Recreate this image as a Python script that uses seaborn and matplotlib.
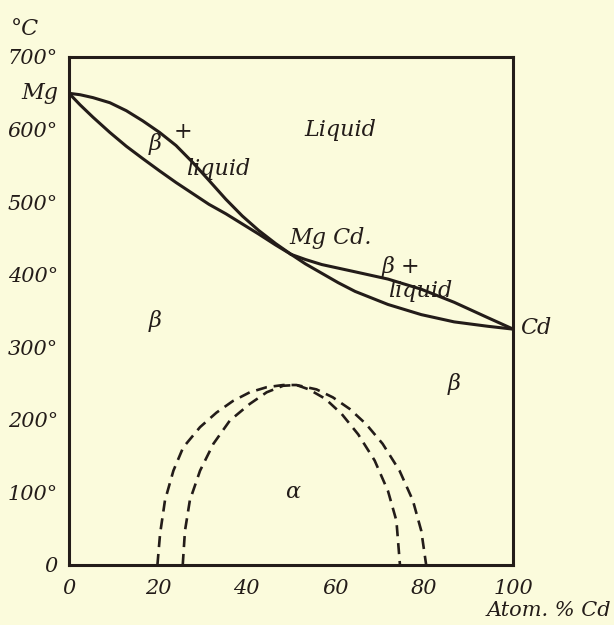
import numpy as np
import pandas as pd
import seaborn as sns
import matplotlib.pyplot as plt

# liquidus / solidus, Mg side of MgCd
liq_left_x = [0, 2.5, 5.4, 9.2, 12.9, 16.6, 20.4, 24.1, 27.8, 31.5, 35.3, 39, 42.7, 46.5, 50]
liq_left_t = [650, 648, 644, 637, 626, 612, 596, 578, 555, 530, 504, 481, 461, 443, 428]
sol_left_x = [0, 2.5, 5.4, 9.2, 12.9, 16.6, 20.4, 24.1, 27.8, 31.5, 35.3, 39, 42.7, 46.5, 50]
sol_left_t = [650, 634, 617, 596, 577, 560, 543, 527, 512, 497, 484, 470, 456, 441, 428]

# Cd side of MgCd
liq_right_x = [50, 53.2, 56.9, 64.4, 71.8, 79.3, 86.7, 94.2, 100]
liq_right_t = [428, 421, 414, 404, 394, 380, 362, 341, 325]
sol_right_x = [50, 53.2, 56.9, 60.6, 64.4, 71.8, 79.3, 86.7, 94.2, 100]
sol_right_t = [428, 415, 402, 389, 377, 359, 345, 335, 329, 325]

# transformation curves (dashed)
outer_x = [19.9, 20.5, 21.6, 23.5, 25.7, 29.5, 33.2, 36.9, 40.7, 44.5, 48.2, 51.2,
           55.7, 59.4, 63.2, 66.9, 70.6, 74.4, 77.4, 79.3, 80.4]
outer_t = [0, 43, 89, 130, 162, 190, 210, 226, 238, 245, 248, 248,
           242, 231, 215, 194, 167, 130, 89, 47, 0]
inner_x = [25.6, 26.1, 27.2, 29.5, 32.5, 36.2, 40.7, 44.5, 48.2, 51.2,
           54, 57.7, 61.4, 65.1, 68.8, 71.8, 73.7, 74.5]
inner_t = [0, 47, 89, 130, 167, 199, 222, 238, 247, 248,
           242, 229, 208, 180, 144, 102, 61, 0]

x_ticks = [0, 20, 40, 60, 80, 100]
y_ticks = [0, 100, 200, 300, 400, 500, 600, 700]
y_labels = ["0", "100°", "200°", "300°", "400°", "500°", "600°", "700°"]

bg = "#fbfbdc"
ink = "#231c19"

sns.set_style("white")
plt.rcParams["font.family"] = ["DejaVu Serif"]
plt.rcParams["font.style"] = "italic"

fig = plt.figure(figsize=(6.14, 6.25), dpi=100, facecolor=bg)
ax = fig.add_axes([0.1124, 0.0960, 0.7235, 0.8128])
ax.set_facecolor(bg)

for xs, ts in [(liq_left_x, liq_left_t), (sol_left_x, sol_left_t),
               (liq_right_x, liq_right_t), (sol_right_x, sol_right_t)]:
    sns.lineplot(x=xs, y=ts, sort=False, estimator=None, color=ink, lw=2.2, ax=ax)

for xs, ts in [(outer_x, outer_t), (inner_x, inner_t)]:
    sns.lineplot(x=xs, y=ts, sort=False, estimator=None, color=ink, lw=1.9,
                 linestyle=(0, (4.2, 2.6)), ax=ax)

ax.set_xlim(0, 100)
ax.set_ylim(0, 700)
ax.set_xticks(x_ticks)
ax.set_xticklabels([str(v) for v in x_ticks])
ax.set_yticks(y_ticks)
ax.set_yticklabels(y_labels)
ax.tick_params(direction="out", length=4, width=2, color=ink, labelcolor=ink,
               labelsize=15, pad=4)
ax.tick_params(axis="x", pad=6)
for s in ax.spines.values():
    s.set_color(ink)
    s.set_linewidth(2.2)

txt = dict(color=ink, fontsize=16, style="italic")
ax.text(61, 600, "Liquid", ha="center", va="center", **txt)
ax.text(19.3, 580, "β", ha="center", va="center", **txt)
ax.text(25.6, 597, "+", ha="center", va="center", **txt)
ax.text(33.5, 545, "liquid", ha="center", va="center", **txt)
ax.text(49.5, 451, "Mg Cd.", ha="left", va="center", **txt)
ax.text(70.5, 410, "β +", ha="left", va="center", **txt)
ax.text(79, 377, "liquid", ha="center", va="center", **txt)
ax.text(19.3, 336, "β", ha="center", va="center", **txt)
ax.text(86.7, 249, "β", ha="center", va="center", **txt)
ax.text(50.3, 100, "α", ha="center", va="center", **txt)
ax.text(101.5, 326, "Cd", ha="left", va="center", clip_on=False, **txt)
ax.text(-2.4, 650, "Mg", ha="right", va="center", clip_on=False, **txt)
ax.text(-13, 738, "°C", ha="left", va="center", clip_on=False, **txt)
ax.text(122, -63, "Atom. % Cd", ha="right", va="center", clip_on=False,
        **{**txt, "fontsize": 15})

fig.savefig("out.png", dpi=100, facecolor=bg)
